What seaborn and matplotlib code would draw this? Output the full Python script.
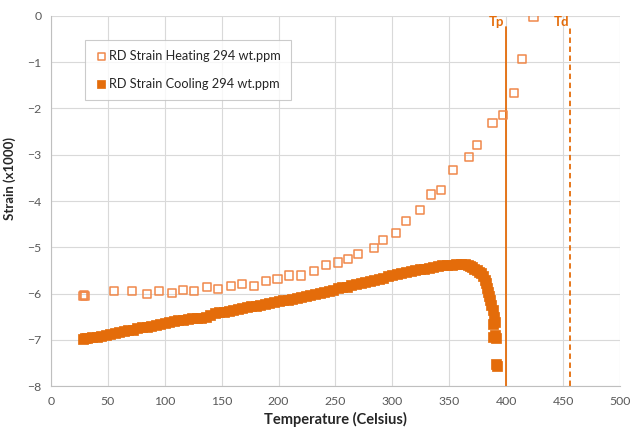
import pandas as pd
import matplotlib.pyplot as plt
import seaborn as sns

# Heating run (hollow squares)
heat_temp = [28, 29, 30, 55, 71, 84, 95, 106, 116, 126, 137, 147, 158, 168, 178, 189,
             199, 209, 220, 231, 242, 252, 261, 270, 284, 292, 303, 312, 324, 334,
             343, 353, 367, 374, 388, 397, 407, 414, 424]
heat_strain = [-6.05, -6.03, -6.05, -5.94, -5.94, -6.01, -5.94, -5.98, -5.92, -5.94, -5.85,
               -5.91, -5.83, -5.79, -5.83, -5.73, -5.68, -5.61, -5.61, -5.51, -5.38, -5.33,
               -5.25, -5.14, -5.02, -4.84, -4.69, -4.43, -4.19, -3.86, -3.77, -3.33, -3.05,
               -2.79, -2.31, -2.15, -1.67, -0.93, -0.01]

# Cooling run (filled squares, dense)
cool_temp = [28, 30, 32, 36, 40, 44, 48, 52, 56, 60, 64, 68, 72, 76, 80, 84, 88, 92, 96,
             100, 104, 108, 112, 116, 120, 124, 128, 132, 136, 140, 144, 148, 152, 156,
             160, 164, 168, 172, 176, 180, 184, 188, 192, 196, 200, 204, 208, 212, 216,
             220, 224, 228, 232, 236, 240, 244, 248, 252, 256, 260, 264, 268, 272, 276,
             280, 284, 288, 292, 296, 300, 304, 308, 312, 316, 320, 324, 328, 332, 336,
             340, 344, 348, 352, 356, 360, 364, 366, 368, 370, 372, 374, 376, 378, 380,
             381, 382, 383, 384, 385, 386, 387, 388, 389, 390, 388, 390, 388, 391, 391, 392]
cool_strain = [-6.98, -6.96, -6.97, -6.95, -6.94, -6.92, -6.89, -6.87, -6.86, -6.84, -6.81,
               -6.79, -6.78, -6.74, -6.73, -6.72, -6.70, -6.68, -6.66, -6.64, -6.62, -6.60,
               -6.58, -6.57, -6.55, -6.54, -6.53, -6.52, -6.51, -6.46, -6.43, -6.41, -6.40,
               -6.38, -6.36, -6.34, -6.32, -6.30, -6.28, -6.26, -6.24, -6.22, -6.20, -6.18,
               -6.17, -6.15, -6.13, -6.11, -6.09, -6.07, -6.05, -6.03, -6.01, -5.99, -5.97,
               -5.94, -5.92, -5.89, -5.86, -5.85, -5.82, -5.80, -5.78, -5.76, -5.73, -5.71,
               -5.68, -5.66, -5.63, -5.61, -5.58, -5.56, -5.54, -5.51, -5.49, -5.47, -5.46,
               -5.44, -5.42, -5.40, -5.39, -5.38, -5.38, -5.37, -5.37, -5.36, -5.38, -5.40,
               -5.43, -5.46, -5.50, -5.53, -5.56, -5.62, -5.70, -5.78, -5.88, -5.96, -6.05,
               -6.15, -6.25, -6.35, -6.50, -6.62, -6.65, -6.90, -6.93, -6.97, -7.52, -7.57]

tp, td = 400, 456

orange = "#E46C0A"
light_orange = "#F0884A"

sns.set_style("white")
plt.rcParams['font.family'] = ['Lato', 'DejaVu Sans']

fig = plt.figure(figsize=(6.32, 4.30), dpi=100)
ax = fig.add_axes([0.0807, 0.1023, 0.9003, 0.8605])

heat = pd.DataFrame({"Temperature": heat_temp, "Strain": heat_strain})
cool = pd.DataFrame({"Temperature": cool_temp, "Strain": cool_strain})

sns.scatterplot(data=cool, x="Temperature", y="Strain", marker="s", s=48,
                color=orange, edgecolor=orange, linewidth=0.5, ax=ax,
                label="RD Strain Cooling 294 wt.ppm", zorder=3)
sns.scatterplot(data=heat, x="Temperature", y="Strain", marker="s", s=34,
                facecolor="none", edgecolor=light_orange, linewidth=1.1, ax=ax,
                label="RD Strain Heating 294 wt.ppm", zorder=4)

# transition temperatures
ax.plot([tp, tp], [-8, -0.23], color=orange, lw=1.3, zorder=2)
ax.plot([td, td], [-8, -0.25], color=orange, lw=1.3, ls=(0, (3, 2)), zorder=2)
ax.text(tp - 2, -0.12, "Tp", color=orange, fontweight="bold", fontsize=9.5,
        ha="right", va="center")
ax.text(td - 1, -0.12, "Td", color=orange, fontweight="bold", fontsize=9.5,
        ha="right", va="center")

ax.set_xlim(0, 500)
ax.set_ylim(-8, 0)
ax.set_xticks(range(0, 501, 50))
ax.set_yticks(range(-8, 1, 1))
ax.grid(True, color="#D9D9D9", lw=0.8)
ax.set_axisbelow(True)
for side in ["top", "right"]:
    ax.spines[side].set_visible(False)
for side in ["left", "bottom"]:
    ax.spines[side].set_color("#BFBFBF")
    ax.spines[side].set_linewidth(0.8)
ax.tick_params(axis="both", length=4, width=0.8, color="#BFBFBF",
               labelcolor="#595959", labelsize=8.8, pad=3)

ax.set_xlabel("Temperature (Celsius)", fontsize=10.5, fontweight="bold", labelpad=4)
ax.set_ylabel("Strain (x1000)", fontsize=9.5, fontweight="bold", labelpad=6)
ax.yaxis.set_label_coords(-0.062, 0.56)

# legend order: heating first
h, l = ax.get_legend_handles_labels()
leg = ax.legend(h[::-1], l[::-1], loc="upper left", bbox_to_anchor=(0.059, 0.935),
                borderaxespad=0, fontsize=9.2, frameon=True, fancybox=False,
                edgecolor="#BFBFBF", labelspacing=1.2, handletextpad=0.1,
                handlelength=1.0, borderpad=0.8, markerscale=0.85)
leg.get_frame().set_linewidth(0.8)

plt.savefig("out.png", dpi=100)
